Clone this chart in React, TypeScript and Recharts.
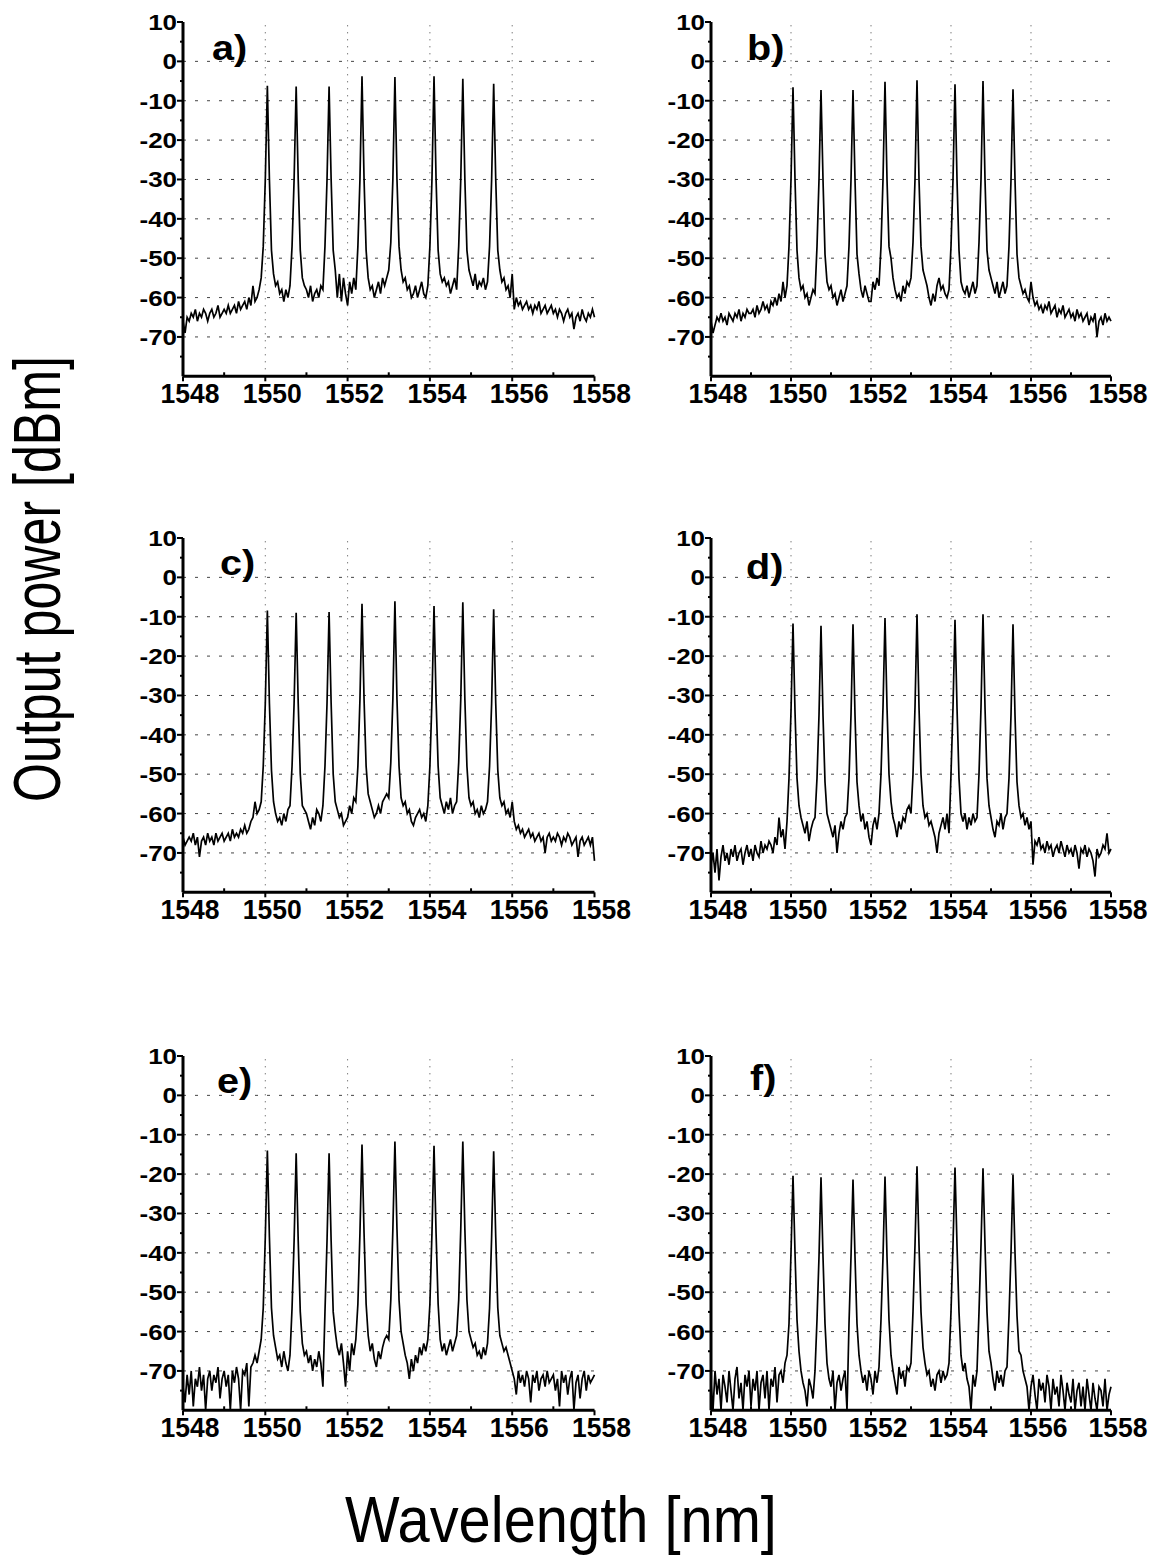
import React from 'react';
import { LineChart, Line, XAxis, YAxis, ReferenceLine } from 'recharts';

// Wavelength sampling of the spectra (nm)
const WL_START = 1548;
const WL_STEP = 0.05;

const X_TICKS = [1548, 1549, 1550, 1551, 1552, 1553, 1554, 1555, 1556, 1557, 1558];
const Y_TICKS = [10, 5, 0, -5, -10, -15, -20, -25, -30, -35, -40, -45, -50, -55, -60, -65, -70, -75];
const X_GRID = [1550, 1552, 1554, 1556];
const Y_GRID = [0, -10, -20, -30, -40, -50, -60, -70];
const PANEL_LABELS = ['a)', 'b)', 'c)', 'd)', 'e)', 'f)'];

// Output power [dBm], one value per 0.05 nm from 1548 to 1558 nm (201 samples)
const SPEC_A = [
  -66, -69, -65, -66, -64, -65, -63, -66, -64, -65, -63, -64, -66, -64, -63, -65, -64, -62, -65, -64,
  -63, -64, -62, -64, -63, -62, -64, -61, -63, -62, -61, -63, -60, -62, -57, -61, -60, -58, -55, -47,
  -30, -6.2, -30, -48, -54, -57, -56, -59, -58, -61, -58, -60, -57, -47, -30, -6.4, -30, -48, -55, -57,
  -58, -60, -57, -61, -59, -58, -60, -57, -58, -47, -30, -6.4, -30, -48, -53, -60, -54, -61, -55, -59,
  -62, -56, -59, -55, -58, -47, -30, -3.8, -30, -48, -55, -58, -57, -60, -58, -56, -59, -55, -57, -55,
  -53, -46, -30, -4.0, -30, -47, -53, -56, -55, -58, -57, -60, -59, -57, -60, -58, -56, -59, -60, -57,
  -47, -30, -3.8, -30, -48, -54, -56, -55, -57, -56, -59, -57, -55, -58, -47, -30, -4.4, -30, -48, -53,
  -55, -57, -54, -58, -56, -57, -55, -58, -56, -47, -30, -5.7, -30, -48, -53, -56, -55, -58, -57, -60,
  -54, -63, -60, -62, -61, -63, -62, -61, -63, -62, -64, -62, -63, -61, -64, -63, -62, -64, -63, -62,
  -64, -63, -65, -63, -64, -66, -64, -63, -65, -64, -68, -65, -64, -66, -63, -65, -66, -64, -65, -63,
  -65,
];

const SPEC_B = [
  -66, -69, -67, -65, -66, -64, -66, -65, -67, -64, -65, -66, -64, -65, -63, -66, -64, -65, -63, -64,
  -64, -63, -65, -62, -64, -63, -61, -63, -62, -64, -61, -62, -60, -62, -59, -61, -56, -60, -57, -47,
  -30, -6.6, -30, -48, -55, -58, -57, -60, -59, -62, -60, -58, -59, -47, -30, -7.3, -30, -49, -56, -58,
  -57, -60, -59, -62, -60, -58, -61, -59, -57, -47, -30, -7.3, -30, -49, -54, -58, -60, -57, -59, -61,
  -61, -56, -58, -55, -57, -47, -30, -5.2, -30, -47, -50, -55, -58, -60, -59, -61, -57, -59, -56, -57,
  -55, -46, -30, -4.8, -30, -47, -53, -55, -57, -60, -62, -59, -61, -57, -55, -58, -57, -59, -60, -58,
  -47, -30, -5.8, -30, -48, -56, -58, -59, -57, -60, -58, -56, -59, -57, -46, -30, -5.0, -30, -48, -53,
  -55, -57, -59, -56, -60, -58, -56, -59, -57, -47, -30, -7.1, -30, -49, -55, -57, -59, -58, -60, -61,
  -56, -60, -62, -61, -63, -62, -64, -62, -63, -61, -64, -63, -62, -65, -63, -64, -62, -65, -64, -63,
  -65, -64, -66, -63, -65, -64, -66, -65, -64, -67, -65, -66, -64, -70, -66, -65, -67, -64, -66, -65,
  -66,
];

const SPEC_C = [
  -66, -68, -67, -66, -67, -65, -68, -66, -71, -67, -66, -68, -65, -67, -66, -68, -65, -67, -66, -65,
  -67, -66, -65, -67, -64, -66, -65, -66, -64, -65, -63, -65, -64, -62, -61, -57, -60, -59, -57, -48,
  -32, -8.4, -32, -49, -57, -60, -62, -61, -63, -60, -62, -59, -58, -48, -32, -9.0, -32, -50, -58, -59,
  -60, -62, -64, -61, -63, -59, -60, -62, -58, -48, -32, -8.8, -32, -50, -57, -59, -61, -60, -63, -62,
  -61, -58, -60, -56, -57, -48, -31, -6.7, -31, -48, -55, -57, -59, -61, -60, -58, -60, -57, -56, -55,
  -56, -47, -31, -6.1, -31, -48, -56, -58, -57, -60, -59, -62, -63, -61, -60, -59, -61, -60, -62, -58,
  -48, -31, -7.3, -31, -48, -56, -58, -60, -57, -59, -56, -60, -58, -57, -47, -31, -6.3, -31, -48, -56,
  -58, -57, -60, -59, -61, -58, -60, -59, -57, -48, -32, -8.1, -32, -49, -56, -58, -57, -60, -59, -61,
  -57, -62, -64, -63, -65, -64, -66, -65, -64, -66, -65, -67, -66, -65, -67, -66, -70, -66, -65, -67,
  -66, -67, -65, -66, -68, -66, -67, -65, -66, -68, -67, -66, -71, -67, -66, -68, -67, -66, -68, -66,
  -72,
];

const SPEC_D = [
  -73, -70, -75, -69, -77, -71, -68, -72, -70, -73, -69, -71, -68, -72, -70, -69, -73, -70, -68, -71,
  -69, -72, -68, -70, -71, -67, -70, -68, -69, -67, -68, -70, -66, -68, -61, -66, -64, -69, -62, -51,
  -34, -11.7, -34, -51, -58, -61, -63, -65, -62, -67, -64, -62, -61, -51, -35, -12.3, -35, -52, -60, -62,
  -64, -66, -63, -70, -65, -62, -64, -61, -60, -51, -35, -11.9, -35, -52, -58, -62, -60, -64, -62, -66,
  -68, -63, -61, -64, -60, -50, -33, -10.3, -33, -50, -57, -61, -63, -66, -62, -64, -61, -62, -59, -58,
  -60, -50, -33, -9.4, -33, -50, -58, -61, -60, -63, -62, -64, -66, -70, -65, -63, -61, -64, -60, -65,
  -50, -33, -10.8, -33, -51, -60, -62, -60, -64, -61, -63, -60, -62, -61, -50, -33, -9.4, -33, -51, -58,
  -61, -64, -66, -62, -63, -60, -64, -61, -60, -51, -35, -11.9, -35, -52, -58, -61, -60, -63, -61, -64,
  -62, -73, -67, -68, -66, -69, -68, -70, -67, -69, -68, -71, -69, -68, -70, -67, -69, -71, -68, -70,
  -69, -71, -68, -70, -74, -69, -70, -68, -71, -69, -70, -72, -76, -69, -71, -70, -68, -69, -65, -70,
  -69,
];

const SPEC_E = [
  -74, -78, -71, -76, -70, -79, -72, -74, -69, -75, -71, -80, -72, -70, -75, -71, -73, -69, -77, -72,
  -70, -74, -71, -80, -70, -73, -69, -72, -80, -70, -71, -68, -79, -69, -68, -66, -68, -65, -62, -54,
  -36, -14.0, -36, -54, -61, -64, -67, -66, -69, -65, -68, -70, -66, -54, -37, -14.7, -37, -55, -63, -66,
  -65, -68, -66, -70, -67, -69, -65, -68, -74, -55, -37, -14.7, -37, -55, -60, -64, -66, -63, -68, -74,
  -65, -70, -63, -66, -62, -53, -35, -12.5, -35, -53, -61, -65, -63, -67, -69, -65, -67, -64, -62, -61,
  -62, -52, -34, -11.7, -34, -52, -60, -63, -66, -68, -72, -67, -70, -66, -68, -64, -66, -63, -65, -62,
  -53, -35, -12.8, -35, -53, -62, -65, -63, -66, -64, -62, -65, -63, -61, -52, -34, -11.7, -34, -52, -60,
  -62, -64, -63, -66, -65, -67, -64, -66, -63, -54, -36, -14.2, -36, -54, -61, -63, -65, -64, -66, -68,
  -70, -72, -76, -70, -73, -71, -74, -70, -72, -78, -71, -73, -70, -75, -72, -71, -74, -70, -73, -72,
  -71, -75, -72, -79, -70, -73, -71, -76, -72, -70, -80, -73, -71, -77, -72, -70, -75, -71, -73, -72,
  -71,
];

const SPEC_F = [
  -73, -80, -70, -76, -72, -80, -71, -74, -78, -70, -75, -80, -72, -69, -77, -73, -80, -71, -74, -70,
  -79, -72, -75, -70, -80, -73, -71, -77, -70, -80, -72, -74, -69, -78, -71, -70, -73, -68, -66, -58,
  -40, -20.4, -40, -57, -65, -70, -73, -75, -79, -72, -74, -77, -70, -57, -41, -20.8, -41, -58, -68, -72,
  -74, -70, -80, -73, -71, -75, -72, -70, -80, -58, -41, -21.4, -41, -58, -66, -70, -73, -71, -75, -70,
  -72, -76, -70, -73, -69, -57, -41, -20.6, -41, -57, -66, -70, -73, -76, -69, -72, -70, -74, -69, -70,
  -68, -55, -38, -18.0, -38, -55, -64, -68, -71, -70, -74, -72, -75, -71, -70, -73, -70, -72, -71, -68,
  -55, -38, -18.3, -38, -55, -66, -70, -68, -72, -74, -80, -71, -74, -70, -55, -38, -18.5, -38, -55, -65,
  -68, -72, -75, -70, -73, -71, -74, -70, -69, -56, -40, -20.2, -40, -56, -65, -66, -70, -72, -74, -80,
  -74, -71, -76, -80, -72, -75, -73, -78, -71, -74, -80, -72, -76, -74, -79, -71, -75, -80, -73, -76,
  -78, -72, -80, -75, -73, -79, -74, -80, -72, -76, -80, -73, -77, -80, -74, -75, -79, -72, -80, -76,
  -74,
];

const SPECTRA = [SPEC_A, SPEC_B, SPEC_C, SPEC_D, SPEC_E, SPEC_F];

// ---- layout (pixels) ----
const COL_LEFT = [182.5, 711];
const COL_W = [411.5, 400];
const ROW_TOP = [21.7, 538.3, 1056];
const PLOT_H = 354.3;
const M_TOP = 20;
const M_RIGHT = 42;
const Y_AXIS_W = 80;
const X_AXIS_H = 60;
const LABEL_POS = [
  [212, 60], [747, 60],
  [220, 575], [746, 579],
  [217, 1093], [750, 1090],
];

const FONT = "'Liberation Sans', Arial, Helvetica, sans-serif";

const toRows = (vals: number[]) =>
  vals.map((y, i) => ({ x: Math.round((WL_START + i * WL_STEP) * 100) / 100, y }));

const XTick = (props: any) => {
  const { x, y, payload } = props;
  const v = payload.value;
  const major = v % 2 === 0;
  return (
    <g>
      {major ? (
        <line x1={x} x2={x} y1={y} y2={y + 5} stroke="#000" strokeWidth={2} />
      ) : (
        <line x1={x} x2={x} y1={y} y2={y - 4} stroke="#000" strokeWidth={2} />
      )}
      {major && (
        <text
          transform={`translate(${x + 7},${y + 27}) scale(1.02,1.05)`}
          textAnchor="middle"
          fontFamily={FONT}
          fontWeight="bold"
          fontSize={26}
          fill="#000"
        >
          {v}
        </text>
      )}
    </g>
  );
};

const YTick = (props: any) => {
  const { x, y, payload } = props;
  const v = payload.value;
  const major = v % 10 === 0;
  return (
    <g>
      <line x1={x} x2={x - (major ? 6 : 3)} y1={y} y2={y} stroke="#000" strokeWidth={2} />
      {major && (
        <text
          transform={`translate(${x - 6},${y + 8}) scale(1.18,1)`}
          textAnchor="end"
          fontFamily={FONT}
          fontWeight="bold"
          fontSize={22}
          fill="#000"
        >
          {v}
        </text>
      )}
    </g>
  );
};

const Panel = ({ idx }: { idx: number }) => {
  const col = idx % 2;
  const row = Math.floor(idx / 2);
  const w = Y_AXIS_W + COL_W[col] + M_RIGHT;
  const h = M_TOP + PLOT_H + X_AXIS_H;
  const data = toRows(SPECTRA[idx]);
  return (
    <div
      style={{
        position: 'absolute',
        left: COL_LEFT[col] - Y_AXIS_W,
        top: ROW_TOP[row] - M_TOP,
        width: w,
        height: h,
      }}
    >
      <LineChart width={w} height={h} data={data} margin={{ top: M_TOP, right: M_RIGHT, left: 0, bottom: 0 }}>
        {Y_GRID.map((g) => (
          <ReferenceLine key={'h' + g} y={g} stroke="#444" strokeWidth={1} strokeDasharray="3 9" />
        ))}
        {X_GRID.map((g) => (
          <ReferenceLine key={'v' + g} x={g} stroke="#444" strokeWidth={1} strokeDasharray="1 6" />
        ))}
        <XAxis
          dataKey="x"
          type="number"
          domain={[1548, 1558]}
          ticks={X_TICKS}
          interval={0}
          height={X_AXIS_H}
          tickSize={0}
          tickMargin={0}
          tickLine={false}
          tick={<XTick />}
          axisLine={{ stroke: '#000', strokeWidth: 3 }}
        />
        <YAxis
          type="number"
          domain={[-80, 10]}
          ticks={Y_TICKS}
          interval={0}
          width={Y_AXIS_W}
          tickSize={0}
          tickMargin={0}
          tickLine={false}
          tick={<YTick />}
          axisLine={{ stroke: '#000', strokeWidth: 3 }}
        />
        <Line
          type="linear"
          dataKey="y"
          stroke="#000"
          strokeWidth={1.7}
          dot={false}
          isAnimationActive={false}
        />
      </LineChart>
    </div>
  );
};

export default function App() {
  return (
    <div style={{ position: 'absolute', left: 0, top: 0, width: 1176, height: 1562, background: '#fff' }}>
      {SPECTRA.map((_, i) => (
        <Panel key={i} idx={i} />
      ))}
      <svg
        width={1176}
        height={1562}
        style={{ position: 'absolute', left: 0, top: 0, pointerEvents: 'none' }}
      >
        {PANEL_LABELS.map((t, i) => (
          <text
            key={t}
            transform={`translate(${LABEL_POS[i][0]},${LABEL_POS[i][1]}) scale(1.1,1)`}
            fontFamily={FONT}
            fontWeight="bold"
            fontSize={36}
            fill="#000"
          >
            {t}
          </text>
        ))}
        <text
          transform="translate(561,1542) scale(0.89,1)"
          textAnchor="middle"
          fontFamily={FONT}
          fontSize={65}
          fill="#000"
        >
          Wavelength [nm]
        </text>
        <text
          transform="translate(60,579) rotate(-90) scale(0.76,1)"
          textAnchor="middle"
          fontFamily={FONT}
          fontSize={66}
          fill="#000"
        >
          Output power [dBm]
        </text>
      </svg>
    </div>
  );
}
